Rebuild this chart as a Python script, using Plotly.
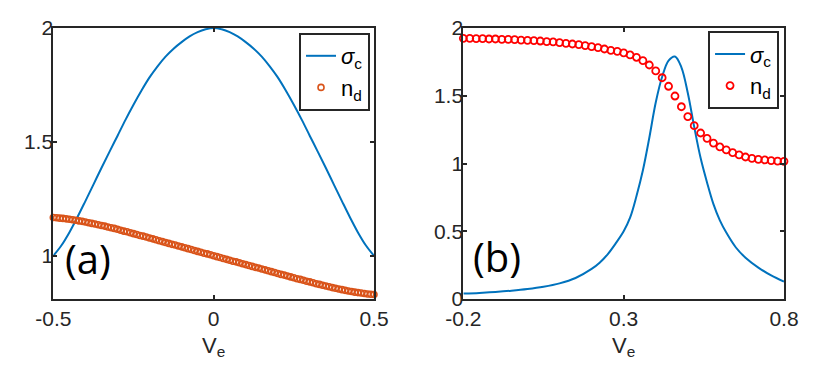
import plotly.graph_objects as go

# panel (a)
ve_a_line = [-0.5, -0.475, -0.45, -0.425, -0.4, -0.375, -0.35, -0.325, -0.3, -0.275, -0.25,
             -0.225, -0.2, -0.175, -0.15, -0.125, -0.1, -0.075, -0.05, -0.025, 0.0,
             0.025, 0.05, 0.075, 0.1, 0.125, 0.15, 0.175, 0.2, 0.225, 0.25,
             0.275, 0.3, 0.325, 0.35, 0.375, 0.4, 0.425, 0.45, 0.475, 0.5]
sigma_a = [1.0, 1.045, 1.1025, 1.169, 1.24, 1.3125, 1.385, 1.456, 1.526, 1.5965, 1.663,
           1.7255, 1.783, 1.8318, 1.8743, 1.9093, 1.938, 1.963, 1.9818, 1.9943, 2.0,
           1.9943, 1.9818, 1.963, 1.938, 1.9093, 1.8743, 1.8318, 1.783, 1.7255, 1.663,
           1.5965, 1.526, 1.456, 1.385, 1.3125, 1.24, 1.169, 1.1025, 1.045, 1.0]

ve_a_dots = [round(-0.5 + 0.01 * i, 2) for i in range(101)]
nd_a = [1.168, 1.167, 1.165, 1.164, 1.162, 1.160, 1.158, 1.156, 1.153, 1.151,
        1.148, 1.145, 1.142, 1.139, 1.136, 1.133, 1.130, 1.126, 1.123, 1.120,
        1.116, 1.112, 1.108, 1.105, 1.101, 1.097, 1.093, 1.089, 1.086, 1.082,
        1.078, 1.074, 1.070, 1.066, 1.062, 1.058, 1.054, 1.050, 1.047, 1.043,
        1.039, 1.035, 1.031, 1.027, 1.023, 1.019, 1.015, 1.011, 1.008, 1.004,
        1.000, 0.996, 0.992, 0.988, 0.984, 0.980, 0.976, 0.973, 0.969, 0.965,
        0.961, 0.957, 0.953, 0.949, 0.946, 0.942, 0.938, 0.934, 0.930, 0.926,
        0.922, 0.918, 0.915, 0.911, 0.907, 0.903, 0.899, 0.896, 0.892, 0.888,
        0.885, 0.881, 0.877, 0.874, 0.870, 0.867, 0.864, 0.860, 0.857, 0.854,
        0.851, 0.848, 0.845, 0.843, 0.840, 0.838, 0.836, 0.834, 0.832, 0.831,
        0.830]

# panel (b)
ve_b_line = [-0.2, -0.15, -0.1, -0.05, 0.0, 0.05, 0.1, 0.15, 0.2, 0.225, 0.25, 0.275,
             0.3, 0.32, 0.34, 0.36, 0.38, 0.4, 0.42, 0.44, 0.46, 0.48, 0.5, 0.52,
             0.54, 0.56, 0.58, 0.6, 0.62, 0.65, 0.68, 0.72, 0.76, 0.8]
sigma_b = [0.040, 0.045, 0.052, 0.061, 0.073, 0.090, 0.115, 0.155, 0.222, 0.268, 0.33, 0.41,
           0.50, 0.60, 0.76, 0.95, 1.19, 1.45, 1.64, 1.76, 1.79, 1.71, 1.52, 1.27,
           1.04, 0.86, 0.70, 0.58, 0.49, 0.38, 0.305, 0.232, 0.174, 0.128]

ve_b_dots = [round(-0.2 + 0.02 * i, 2) for i in range(51)]
nd_b = [1.924, 1.924, 1.921, 1.921, 1.919, 1.919, 1.916, 1.916, 1.914, 1.911,
        1.909, 1.907, 1.904, 1.899, 1.897, 1.892, 1.887, 1.882, 1.877, 1.870,
        1.862, 1.855, 1.845, 1.835, 1.828, 1.817, 1.801, 1.784, 1.759, 1.727,
        1.683, 1.633, 1.570, 1.498, 1.419, 1.346, 1.279, 1.225, 1.186, 1.151,
        1.122, 1.100, 1.080, 1.063, 1.048, 1.038, 1.031, 1.026, 1.021, 1.018,
        1.016]

BLUE = '#0072BD'
ORANGE = '#D95319'
AXC = '#262626'
FONT = 'Liberation Sans, Arial, sans-serif'

fig = go.Figure()

fig.add_trace(go.Scatter(x=ve_a_line, y=sigma_a, mode='lines', line=dict(color=BLUE, width=2, shape='spline'),
                         name='<i>σ</i><sub>c</sub>', legend='legend', xaxis='x', yaxis='y'))
fig.add_trace(go.Scatter(x=ve_a_dots, y=nd_a, mode='markers', cliponaxis=False,
                         marker=dict(symbol='circle-open', size=6, color=ORANGE, line=dict(width=1.6)),
                         name='n<sub>d</sub>', legend='legend', xaxis='x', yaxis='y'))
fig.add_trace(go.Scatter(x=ve_b_line, y=sigma_b, mode='lines', line=dict(color=BLUE, width=2, shape='spline'),
                         name='<i>σ</i><sub>c</sub>', legend='legend2', xaxis='x2', yaxis='y2'))
fig.add_trace(go.Scatter(x=ve_b_dots, y=nd_b, mode='markers', cliponaxis=False,
                         marker=dict(symbol='circle-open', size=7, color='red', line=dict(width=1.8)),
                         name='n<sub>d</sub>', legend='legend2', xaxis='x2', yaxis='y2'))

axis_style = dict(showline=True, linecolor=AXC, linewidth=2, mirror='allticks', ticks='inside',
                  ticklen=4, tickwidth=1.5, tickcolor=AXC, showgrid=False, zeroline=False,
                  automargin=False, tickfont=dict(family=FONT, size=21, color=AXC))
title_font = dict(family=FONT, size=22, color=AXC)

legend_style = dict(bgcolor='white', bordercolor=AXC, borderwidth=2, xanchor='right', yanchor='top',
                    font=dict(family=FONT, size=22, color='black'), itemwidth=30,
                    tracegroupgap=0)

fig.update_layout(
    width=823, height=375,
    margin=dict(l=0, r=0, t=0, b=0, pad=0, autoexpand=False),
    paper_bgcolor='white', plot_bgcolor='white',
    xaxis=dict(axis_style, domain=[0.0648, 0.4544], range=[-0.5, 0.5], tickvals=[-0.5, 0, 0.5],
               ticktext=['-0.5', '0', '0.5'], anchor='y',
               title=dict(text='V<sub>e</sub>', font=title_font, standoff=8)),
    yaxis=dict(axis_style, domain=[0.2027, 0.9253], range=[0.81, 2.0], tickvals=[1, 1.5, 2],
               ticktext=['1', '1.5', '2'], anchor='x', ticklabelstandoff=-6),
    xaxis2=dict(axis_style, domain=[0.563, 0.9526], range=[-0.2, 0.8], tickvals=[-0.2, 0.3, 0.8],
                ticktext=['-0.2', '0.3', '0.8'], anchor='y2',
                title=dict(text='V<sub>e</sub>', font=title_font, standoff=8)),
    yaxis2=dict(axis_style, domain=[0.2027, 0.9253], range=[0, 2.0], tickvals=[0, 0.5, 1, 1.5, 2],
                ticktext=['0', '0.5', '1', '1.5', '2'], anchor='x2', ticklabelstandoff=-6),
    legend=dict(legend_style, x=0.4496, y=0.912),
    legend2=dict(legend_style, x=0.9466, y=0.917),
    showlegend=True,
    annotations=[
        dict(text='(a)', x=-0.392, y=0.99, xref='x', yref='y', showarrow=False,
             font=dict(family='Open Sans, sans-serif', size=40, color='black')),
        dict(text='(b)', x=-0.095, y=0.315, xref='x2', yref='y2', showarrow=False,
             font=dict(family='Open Sans, sans-serif', size=40, color='black')),
    ],
)

fig.write_html("out.html", config={'displayModeBar': False},
               post_script="document.body.style.margin='0';")
